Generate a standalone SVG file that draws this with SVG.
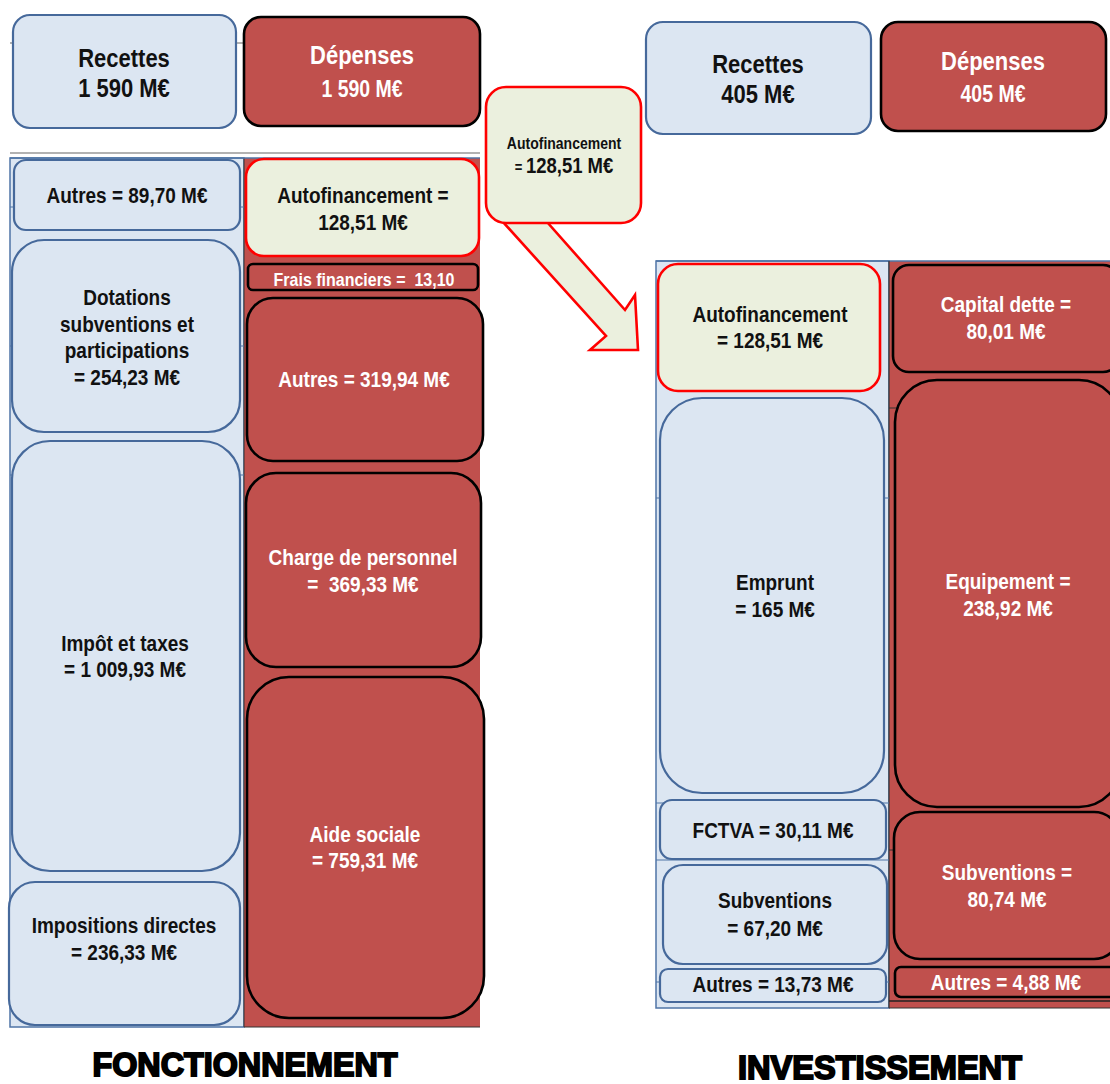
<svg xmlns="http://www.w3.org/2000/svg" width="1110" height="1084" viewBox="0 0 1110 1084">
<style>
text{font-family:"Liberation Sans",Arial,sans-serif;font-weight:bold;text-anchor:middle}
.dk{fill:#111}
.wt{fill:#fff}
.bl{fill:#dce6f2;stroke:#46699b;stroke-width:2.2}
.rd{fill:#c0504d;stroke:#000;stroke-width:2.6}
.gr{fill:#ebf0de;stroke:#ff0000;stroke-width:2.6}
.grid{stroke:#4f74a6;stroke-width:1.2;fill:none}
.gl{stroke:#999;stroke-width:1.5}
.title{fill:#000;stroke:#000;stroke-width:1.6}
</style>
<rect width="1110" height="1084" fill="#fff"/>

<!-- background tables -->
<g id="backgrounds">
  <line class="gl" x1="10" y1="43" x2="244" y2="43"/>
  <line class="gl" x1="10" y1="153" x2="480" y2="153"/>
  <rect x="10" y="158" width="234" height="869" fill="#dce6f2" stroke="#4f74a6" stroke-width="1.5"/>
  <rect x="244" y="158" width="236" height="869" fill="#c0504d"/>
  <line x1="244" y1="158" x2="244" y2="1027" stroke="#333" stroke-width="1"/>
  <line x1="10" y1="158" x2="480" y2="158" stroke="#4f74a6" stroke-width="1.5"/>
  <line class="grid" x1="10" y1="207" x2="244" y2="207"/>
  <line class="grid" x1="10" y1="346" x2="244" y2="346"/>
  <line class="grid" x1="10" y1="475" x2="244" y2="475"/>
  <line x1="244" y1="1027" x2="480" y2="1027" stroke="#333" stroke-width="1"/>

  <rect x="656" y="261" width="233" height="747" fill="#dce6f2" stroke="#4f74a6" stroke-width="1.5"/>
  <rect x="889" y="261" width="221" height="747" fill="#c0504d"/>
  <line x1="656" y1="261" x2="1110" y2="261" stroke="#4f74a6" stroke-width="1.5"/>
  <line x1="889" y1="261" x2="889" y2="1008" stroke="#333" stroke-width="1.2"/>
  <line class="grid" x1="656" y1="498" x2="889" y2="498"/>
  <line class="grid" x1="656" y1="803" x2="889" y2="803"/>
  <line class="grid" x1="656" y1="860" x2="889" y2="860"/>
  <line class="grid" x1="656" y1="982" x2="889" y2="982"/>
  <line x1="889" y1="408" x2="900" y2="408" stroke="#333" stroke-width="1"/>
  <line x1="889" y1="850" x2="900" y2="850" stroke="#333" stroke-width="1"/>
  <line x1="889" y1="1001" x2="1110" y2="1001" stroke="#222" stroke-width="1.5"/>
  <line x1="889" y1="1008" x2="1110" y2="1008" stroke="#333" stroke-width="1"/>
</g>

<!-- connector: arrow -->
<g id="connectors">
  <polygon points="503,222 547,222 625,310 635,295 638,350 590,350 606,336" fill="#ebf0de" stroke="#ff0000" stroke-width="2.6" stroke-linejoin="miter"/>
</g>

<!-- Fonctionnement headers -->
<g id="f-recettes">
  <rect class="bl" x="13" y="15" width="223" height="113" rx="17"/>
  <text class="dk" font-size="22" transform="translate(124,0) scale(1,1.2)"><tspan x="0" y="55.8">Recettes</tspan><tspan x="0" y="80.8">1 590 M€</tspan></text>
</g>
<g id="f-depenses">
  <rect class="rd" x="244" y="17" width="236" height="109" rx="17"/>
  <text class="wt" font-size="22" transform="translate(362,0) scale(1,1.2)"><tspan x="0" y="53.3">Dépenses</tspan><tspan x="0" y="80.8" font-size="19.5">1 590 M€</tspan></text>
</g>

<!-- Fonctionnement recettes -->
<g id="f-autres">
  <rect class="bl" x="14" y="160" width="226" height="70" rx="12"/>
  <text class="dk" font-size="19" transform="translate(127,0) scale(1,1.2)"><tspan x="0" y="169.2">Autres = 89,70 M€</tspan></text>
</g>
<g id="f-dotations">
  <rect class="bl" x="12" y="240" width="228" height="192" rx="32"/>
  <text class="dk" font-size="19" transform="translate(127,0) scale(1,1.2)"><tspan x="0" y="254.2">Dotations</tspan><tspan x="0" y="276.7">subventions et</tspan><tspan x="0" y="298.3">participations</tspan><tspan x="0" y="320.8">= 254,23 M€</tspan></text>
</g>
<g id="f-impots">
  <rect class="bl" x="12" y="441" width="228" height="430" rx="38"/>
  <text class="dk" font-size="19" transform="translate(125,0) scale(1,1.2)"><tspan x="0" y="542.5">Impôt et taxes</tspan><tspan x="0" y="564.2">= 1 009,93 M€</tspan></text>
</g>
<g id="f-impositions">
  <rect class="bl" x="9" y="882" width="231" height="143" rx="26"/>
  <text class="dk" font-size="19" transform="translate(124,0) scale(1,1.2)"><tspan x="0" y="777.5">Impositions directes</tspan><tspan x="0" y="800">= 236,33 M€</tspan></text>
</g>

<!-- Fonctionnement dépenses -->
<g id="f-autofinancement">
  <rect class="gr" x="246" y="159" width="233" height="97" rx="18"/>
  <text class="dk" font-size="19" transform="translate(363,0) scale(1,1.2)"><tspan x="0" y="169.2">Autofinancement =</tspan><tspan x="0" y="191.7">128,51 M€</tspan></text>
</g>
<g id="f-frais">
  <rect class="rd" x="248" y="264" width="230" height="26" rx="5"/>
  <text class="wt" font-size="16" transform="translate(364,0) scale(1,1.2)"><tspan x="0" y="238.3">Frais financiers =&#160; 13,10</tspan></text>
</g>
<g id="f-autres-dep">
  <rect class="rd" x="247" y="298" width="236" height="163" rx="26"/>
  <text class="wt" font-size="19" transform="translate(364,0) scale(1,1.2)"><tspan x="0" y="322.5">Autres = 319,94 M€</tspan></text>
</g>
<g id="f-personnel">
  <rect class="rd" x="246" y="473" width="235" height="194" rx="30"/>
  <text class="wt" font-size="19" transform="translate(363,0) scale(1,1.2)"><tspan x="0" y="470.8">Charge de personnel</tspan><tspan x="0" y="493.3">=&#160; 369,33 M€</tspan></text>
</g>
<g id="f-aide">
  <rect class="rd" x="247" y="677" width="237" height="341" rx="42"/>
  <text class="wt" font-size="19" transform="translate(365,0) scale(1,1.2)"><tspan x="0" y="701.7">Aide sociale</tspan><tspan x="0" y="723.3">= 759,31 M€</tspan></text>
</g>

<!-- transfer box -->
<g id="autofinancement-transfert">
  <rect class="gr" x="486" y="87" width="155" height="136" rx="20"/>
  <text class="dk" transform="translate(564,0) scale(1,1.2)"><tspan x="0" y="124.2" font-size="14">Autofinancement</tspan><tspan x="0" y="144.2" font-size="13">= </tspan><tspan font-size="18.5">128,51 M€</tspan></text>
</g>

<!-- Investissement headers -->
<g id="i-recettes">
  <rect class="bl" x="646" y="22" width="225" height="112" rx="17"/>
  <text class="dk" font-size="22" transform="translate(758,0) scale(1,1.2)"><tspan x="0" y="60.8">Recettes</tspan><tspan x="0" y="85.8">405 M€</tspan></text>
</g>
<g id="i-depenses">
  <rect class="rd" x="881" y="22" width="225" height="109" rx="17"/>
  <text class="wt" font-size="22" transform="translate(993,0) scale(1,1.2)"><tspan x="0" y="58.3">Dépenses</tspan><tspan x="0" y="85" font-size="19.5">405 M€</tspan></text>
</g>

<!-- Investissement recettes -->
<g id="i-autofinancement">
  <rect class="gr" x="658" y="264" width="222" height="127" rx="20"/>
  <text class="dk" font-size="19" transform="translate(770,0) scale(1,1.2)"><tspan x="0" y="268.3">Autofinancement</tspan><tspan x="0" y="290">= 128,51 M€</tspan></text>
</g>
<g id="i-emprunt">
  <rect class="bl" x="660" y="398" width="224" height="395" rx="42"/>
  <text class="dk" font-size="19" transform="translate(775,0) scale(1,1.2)"><tspan x="0" y="491.7">Emprunt</tspan><tspan x="0" y="514.2">= 165 M€</tspan></text>
</g>
<g id="i-fctva">
  <rect class="bl" x="660" y="800" width="226" height="59" rx="12"/>
  <text class="dk" font-size="19" transform="translate(773,0) scale(1,1.2)"><tspan x="0" y="698.3">FCTVA = 30,11 M€</tspan></text>
</g>
<g id="i-subventions">
  <rect class="bl" x="663" y="865" width="224" height="99" rx="20"/>
  <text class="dk" font-size="19" transform="translate(775,0) scale(1,1.2)"><tspan x="0" y="756.7">Subventions</tspan><tspan x="0" y="780">= 67,20 M€</tspan></text>
</g>
<g id="i-autres">
  <rect class="bl" x="660" y="969" width="226" height="33" rx="8"/>
  <text class="dk" font-size="19" transform="translate(773,0) scale(1,1.2)"><tspan x="0" y="826.7">Autres = 13,73 M€</tspan></text>
</g>

<!-- Investissement dépenses -->
<g id="i-capital">
  <rect class="rd" x="893" y="265" width="226" height="107" rx="16"/>
  <text class="wt" font-size="19" transform="translate(1006,0) scale(1,1.2)"><tspan x="0" y="260">Capital dette =</tspan><tspan x="0" y="282.5">80,01 M€</tspan></text>
</g>
<g id="i-equipement">
  <rect class="rd" x="895" y="380" width="226" height="427" rx="42"/>
  <text class="wt" font-size="19" transform="translate(1008,0) scale(1,1.2)"><tspan x="0" y="490.8">Equipement =</tspan><tspan x="0" y="513.3">238,92 M€</tspan></text>
</g>
<g id="i-subventions-dep">
  <rect class="rd" x="894" y="812" width="226" height="147" rx="26"/>
  <text class="wt" font-size="19" transform="translate(1007,0) scale(1,1.2)"><tspan x="0" y="733.3">Subventions =</tspan><tspan x="0" y="755.8">80,74 M€</tspan></text>
</g>
<g id="i-autres-dep">
  <rect class="rd" x="895" y="967" width="226" height="30" rx="6"/>
  <text class="wt" font-size="19" transform="translate(1006,0) scale(1,1.2)"><tspan x="0" y="825">Autres = 4,88 M€</tspan></text>
</g>

<!-- section titles -->
<g id="titles">
  <text class="title" font-size="27" textLength="305" lengthAdjust="spacingAndGlyphs" transform="translate(245,0) scale(1,1.2)" x="0" y="896.5">FONCTIONNEMENT</text>
  <text class="title" font-size="27" textLength="284" lengthAdjust="spacingAndGlyphs" transform="translate(880,0) scale(1,1.2)" x="0" y="899">INVESTISSEMENT</text>
</g>
</svg>
